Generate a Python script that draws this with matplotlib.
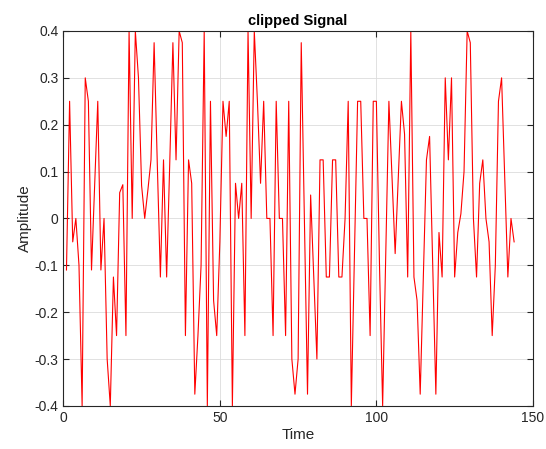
import matplotlib
matplotlib.use("Agg")
import matplotlib.pyplot as plt
import numpy as np

# clipped signal samples (n = 1..144)
amplitude = [
    -0.11, 0.25, -0.05, 0.0, -0.1, -0.4, 0.3, 0.25, -0.11, 0.07,
    0.25, -0.11, 0.0, -0.3, -0.4, -0.125, -0.25, 0.055, 0.072, -0.25,
    0.4, 0.0, 0.4, 0.3, 0.07, 0.0, 0.06, 0.125, 0.375, 0.12,
    -0.125, 0.125, -0.125, 0.12, 0.375, 0.125, 0.4, 0.375, -0.25, 0.125,
    0.075, -0.375, -0.25, -0.1, 0.4, -0.4, 0.25, -0.175, -0.25, -0.05,
    0.25, 0.175, 0.25, -0.4, 0.075, 0.0, 0.075, -0.25, 0.4, 0.0,
    0.4, 0.25, 0.075, 0.25, 0.0, 0.0, -0.25, 0.25, 0.0, 0.0,
    -0.25, 0.25, -0.3, -0.375, -0.3, 0.375, 0.0, -0.375, 0.05, -0.125,
    -0.3, 0.125, 0.125, -0.125, -0.125, 0.125, 0.125, -0.125, -0.125, 0.0,
    0.25, -0.4, -0.08, 0.25, 0.25, 0.0, 0.0, -0.25, 0.25, 0.25,
    -0.1, -0.4, -0.07, 0.25, 0.09, -0.075, 0.09, 0.25, 0.18, -0.125,
    0.4, -0.125, -0.175, -0.375, -0.125, 0.125, 0.175, -0.1, -0.375, -0.03,
    -0.125, 0.3, 0.125, 0.3, -0.125, -0.03, 0.01, 0.1, 0.4, 0.375,
    0.0, -0.125, 0.075, 0.125, 0.0, -0.05, -0.25, -0.1, 0.25, 0.3,
    0.09, -0.125, 0.0, -0.05,
]
time = np.arange(1, len(amplitude) + 1)

x_ticks = [0, 50, 100, 150]
y_ticks = [-0.4, -0.3, -0.2, -0.1, 0, 0.1, 0.2, 0.3, 0.4]

plt.rcParams['font.family'] = ['Liberation Sans', 'DejaVu Sans']
plt.rcParams['axes.unicode_minus'] = False

fig = plt.figure(figsize=(5.46, 4.49), dpi=100)
ax = fig.add_axes([0.116, 0.096, 0.86, 0.835])

ax.plot(time, amplitude, color='red', linewidth=0.8)

ax.set_xlim(0, 150)
ax.set_ylim(-0.4, 0.4)
ax.set_xticks(x_ticks)
ax.set_yticks(y_ticks)
ax.set_yticklabels(['-0.4', '-0.3', '-0.2', '-0.1', '0', '0.1', '0.2', '0.3', '0.4'])

# matlab-like box: inward ticks on all four sides, faint grid
ax.tick_params(direction='in', top=True, right=True, length=4, width=0.8,
               labelsize=10, colors='#262626')
for s in ax.spines.values():
    s.set_color('#262626')
    s.set_linewidth(0.8)
ax.grid(True, color='#dcdcdc', linewidth=0.6)
ax.set_axisbelow(True)

ax.set_title('clipped Signal', fontsize=10.5, fontweight='bold', pad=4)
ax.set_xlabel('Time', fontsize=11, color='#262626', labelpad=2)
ax.set_ylabel('Amplitude', fontsize=11, color='#262626', labelpad=2)

fig.savefig('out.png', dpi=100)
